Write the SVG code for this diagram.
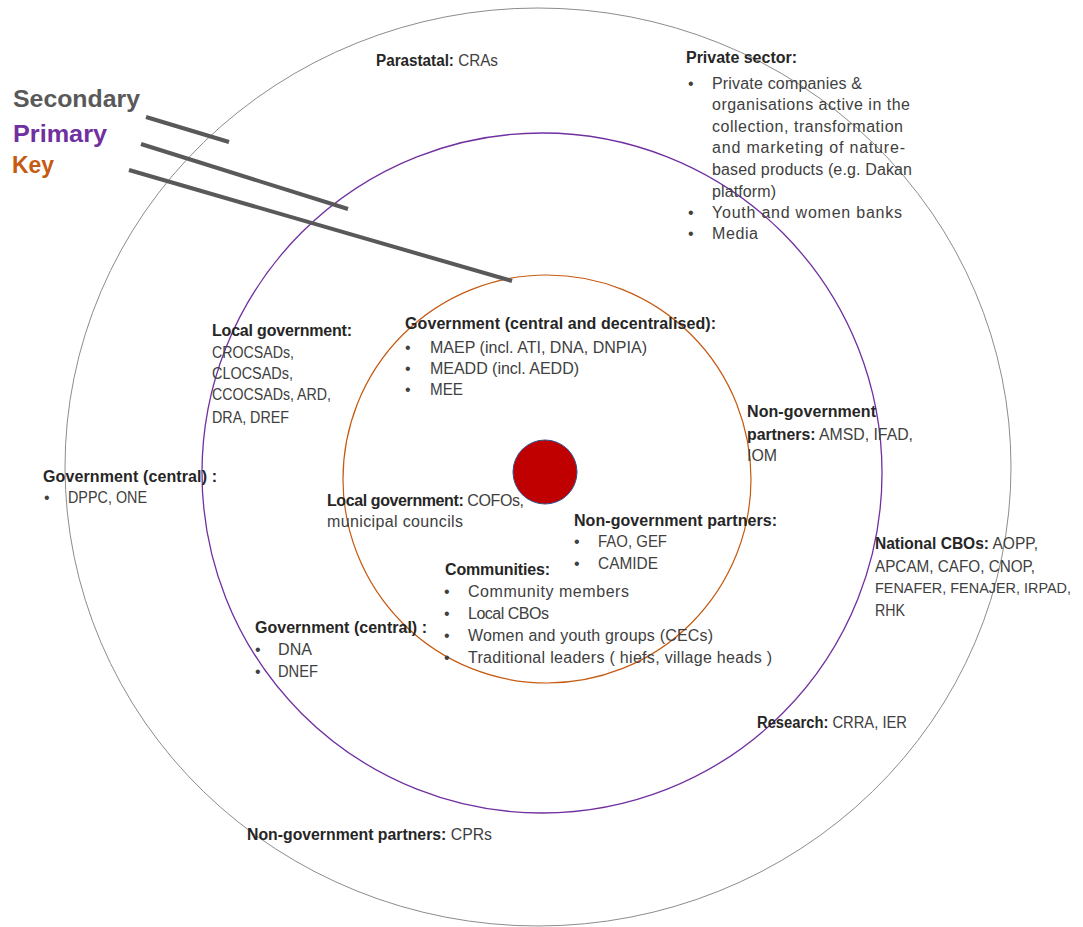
<svg xmlns="http://www.w3.org/2000/svg" width="1083" height="927" viewBox="0 0 1083 927">
<style>
text{font-family:"Liberation Sans",Arial,sans-serif;font-size:16px;fill:#404040}
.b{font-weight:bold;fill:#262626}
.lg{font-size:24px;font-weight:bold}
.ring{fill:none}
.nar{font-size:14.4px}
</style>
<rect width="1083" height="927" fill="#ffffff"/>
<g id="rings">
<ellipse class="ring" cx="538" cy="467" rx="473" ry="459" stroke="#8c8c8c" stroke-width="1"/>
<circle class="ring" cx="542" cy="473" r="340" stroke="#7030A0" stroke-width="1.3"/>
<circle class="ring" cx="547" cy="479" r="204" stroke="#C55A11" stroke-width="1.2"/>
<circle id="core" cx="545" cy="472" r="32" fill="#C00000" stroke="#2F528F" stroke-width="1"/>
</g>
<g id="connectors" stroke="#595959" stroke-width="4" stroke-linecap="butt">
<line x1="146" y1="117" x2="229" y2="142"/>
<line x1="141" y1="144" x2="348" y2="209"/>
<line x1="129" y1="170" x2="512" y2="281"/>
</g>
<g id="legend">
<text class="lg" x="13" y="107" style="fill:#595959" textLength="127" lengthAdjust="spacingAndGlyphs">Secondary</text>
<text class="lg" x="13" y="142" style="fill:#7030A0" textLength="94" lengthAdjust="spacingAndGlyphs">Primary</text>
<text class="lg" x="12" y="173" style="fill:#C55A11" textLength="42" lengthAdjust="spacingAndGlyphs">Key</text>
</g>
<g id="parastatal">
<text x="376" y="66" textLength="122" lengthAdjust="spacingAndGlyphs"><tspan class="b">Parastatal:</tspan> CRAs</text>
</g>
<g id="private-sector">
<text class="b" x="686" y="63" textLength="111">Private sector:</text>
<text x="688" y="89">•</text>
<text x="712" y="89" textLength="150">Private companies &amp;</text>
<text x="712" y="110" textLength="198">organisations active in the</text>
<text x="712" y="132" textLength="191">collection, transformation</text>
<text x="712" y="153" textLength="193">and marketing of nature-</text>
<text x="712" y="175" textLength="200">based products (e.g. Dakan</text>
<text x="712" y="197" textLength="64">platform)</text>
<text x="688" y="218">•</text>
<text x="712" y="218" textLength="190">Youth and women banks</text>
<text x="688" y="239">•</text>
<text x="712" y="239" textLength="46">Media</text>
</g>
<g id="local-gov-primary">
<text class="b" x="212" y="336" textLength="140">Local government:</text>
<text x="212" y="358" textLength="82" lengthAdjust="spacingAndGlyphs">CROCSADs,</text>
<text x="212" y="379" textLength="81" lengthAdjust="spacingAndGlyphs">CLOCSADs,</text>
<text x="212" y="400" textLength="119" lengthAdjust="spacingAndGlyphs">CCOCSADs, ARD,</text>
<text x="212" y="423" textLength="77" lengthAdjust="spacingAndGlyphs">DRA, DREF</text>
</g>
<g id="gov-key">
<text class="b" x="405" y="329" textLength="311">Government (central and decentralised):</text>
<text x="405" y="353">•</text>
<text x="430" y="353" textLength="217">MAEP (incl. ATI, DNA, DNPIA)</text>
<text x="405" y="374">•</text>
<text x="430" y="374" textLength="149">MEADD (incl. AEDD)</text>
<text x="405" y="395">•</text>
<text x="430" y="395" textLength="33" lengthAdjust="spacingAndGlyphs">MEE</text>
</g>
<g id="nongov-primary">
<text class="b" x="747" y="417" textLength="129">Non-government</text>
<text x="747" y="440" textLength="166" lengthAdjust="spacingAndGlyphs"><tspan class="b">partners:</tspan> AMSD, IFAD,</text>
<text x="747" y="461" textLength="30" lengthAdjust="spacingAndGlyphs">IOM</text>
</g>
<g id="gov-central-secondary">
<text class="b" x="43" y="482" textLength="174">Government (central) :</text>
<text x="44" y="503">•</text>
<text x="68" y="503" textLength="79" lengthAdjust="spacingAndGlyphs">DPPC, ONE</text>
</g>
<g id="local-gov-key">
<text x="327" y="506" textLength="197"><tspan class="b">Local government:</tspan> COFOs,</text>
<text x="327" y="527" textLength="136">municipal councils</text>
</g>
<g id="nongov-key">
<text class="b" x="574" y="526" textLength="203">Non-government partners:</text>
<text x="574" y="547">•</text>
<text x="598" y="547" textLength="69" lengthAdjust="spacingAndGlyphs">FAO, GEF</text>
<text x="574" y="569">•</text>
<text x="598" y="569" textLength="60" lengthAdjust="spacingAndGlyphs">CAMIDE</text>
</g>
<g id="communities">
<text class="b" x="445" y="575" textLength="105">Communities:</text>
<text x="444" y="597">•</text>
<text x="468" y="597" textLength="161">Community members</text>
<text x="444" y="619">•</text>
<text x="468" y="619" textLength="81">Local CBOs</text>
<text x="444" y="641">•</text>
<text x="468" y="641" textLength="245">Women and youth groups (CECs)</text>
<text x="444" y="663">•</text>
<text x="468" y="663" textLength="304">Traditional leaders ( hiefs, village heads )</text>
</g>
<g id="national-cbos">
<text x="875" y="549" textLength="163" lengthAdjust="spacingAndGlyphs"><tspan class="b">National CBOs:</tspan> AOPP,</text>
<text x="875" y="572" textLength="160" lengthAdjust="spacingAndGlyphs">APCAM, CAFO, CNOP,</text>
<text class="nar" x="875" y="593" textLength="196" lengthAdjust="spacingAndGlyphs" style="font-size:14.2px">FENAFER, FENAJER, IRPAD,</text>
<text x="875" y="616" textLength="30" lengthAdjust="spacingAndGlyphs">RHK</text>
</g>
<g id="gov-central-primary">
<text class="b" x="255" y="633" textLength="172">Government (central) :</text>
<text x="255" y="655">•</text>
<text x="278" y="655" textLength="34" lengthAdjust="spacingAndGlyphs">DNA</text>
<text x="255" y="677">•</text>
<text x="278" y="677" textLength="40" lengthAdjust="spacingAndGlyphs">DNEF</text>
</g>
<g id="research">
<text x="757" y="728" textLength="150" lengthAdjust="spacingAndGlyphs"><tspan class="b">Research:</tspan> CRRA, IER</text>
</g>
<g id="nongov-secondary">
<text x="247" y="840" textLength="245" lengthAdjust="spacingAndGlyphs"><tspan class="b">Non-government partners:</tspan> CPRs</text>
</g>
</svg>
